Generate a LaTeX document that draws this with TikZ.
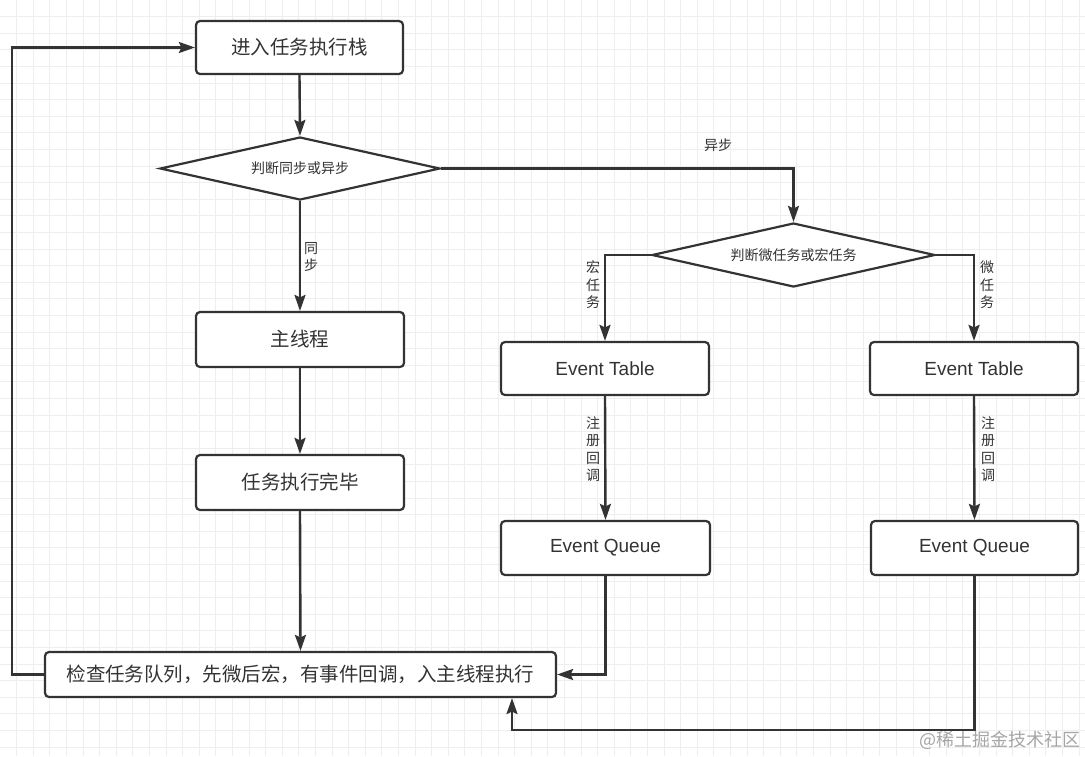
\documentclass[tikz,border=0pt]{standalone}
\usepackage{fontspec}
\setmainfont{Noto Sans CJK SC}
\newfontfamily\latinfont{Liberation Sans}
\usetikzlibrary{arrows.meta,shapes.geometric}
\definecolor{ink}{HTML}{333333}
\definecolor{gridc}{HTML}{EEEEEE}
\begin{document}
\begin{tikzpicture}[x=1pt,y=-1pt,
  gridline/.style={draw=gridc, line width=0.9pt},
  box/.style={draw=ink, line width=2.2pt, rounded corners=4pt, fill=white, inner sep=0pt, text=ink, font=\fontsize{19.5}{24}\selectfont},
  etbox/.style={box, font=\latinfont\fontsize{19}{24}\selectfont},
  decide/.style={diamond, draw=ink, line width=2.2pt, fill=white, inner sep=0pt, shape aspect=4.4, text=ink, font=\fontsize{14}{17}\selectfont},
  arr/.style={draw=ink, line width=2.4pt, -{Stealth[length=16pt,width=11pt,inset=2.5pt]}},
  lbl/.style={text=ink, inner sep=0pt, align=center, font=\fontsize{14}{17.5}\selectfont}
]
\useasboundingbox (0,0) rectangle (1085,756);
\fill[white] (0,0) rectangle (1085,756);
\foreach \i in {1,...,65} \draw[gridline] (\i*16.6,0) -- (\i*16.6,756);
\foreach \j in {1,...,45} \draw[gridline] (0,\j*16.6) -- (1085,\j*16.6);

\coordinate (loopl) at (12,674.5);
\coordinate (loopb) at (512,730);

% nodes
\node[box, minimum width=207pt, minimum height=53pt] (enter) at (299.5,47.5) {进入任务执行栈};
\node[decide, minimum width=280pt, minimum height=63pt] (sync) at (300,168.5) {判断同步或异步};
\node[box, minimum width=208pt, minimum height=55pt] (main) at (300,339.5) {主线程};
\node[box, minimum width=208pt, minimum height=55pt] (done) at (300,482.5) {任务执行完毕};
\node[box, minimum width=511pt, minimum height=45pt] (check) at (300.5,674.5) {检查任务队列，先微后宏，有事件回调，入主线程执行};
\node[decide, minimum width=283pt, minimum height=64pt] (kind) at (793.5,255) {判断微任务或宏任务};
\node[etbox, minimum width=208pt, minimum height=53pt] (etl) at (605,368.5) {Event Table};
\node[etbox, minimum width=208pt, minimum height=53pt] (etr) at (974,368.5) {Event Table};
\node[etbox, minimum width=209pt, minimum height=54pt] (eql) at (605.5,548) {Event Queue};
\node[etbox, minimum width=207pt, minimum height=54pt] (eqr) at (974.5,548) {Event Queue};

% labels
\node[lbl] (lsync) at (311,257) {同\\步};
\node[lbl] (lasync) at (718,145) {异步};
\node[lbl] (lmacro) at (593,285) {宏\\任\\务};
\node[lbl] (lmicro) at (987,285) {微\\任\\务};
\node[lbl] (lregl) at (593,449) {注\\册\\回\\调};
\node[lbl] (lregr) at (988,449) {注\\册\\回\\调};

% connectors
\draw[arr] (enter.south) -- (sync.north);
\draw[arr] (sync.south) -- (main.north);
\draw[arr] (main.south) -- (done.north);
\draw[arr] (done.south) -- (check.north);
\draw[arr] (sync.east) -| (kind.north);
\draw[arr] (kind.west) -| (etl.north);
\draw[arr] (kind.east) -| (etr.north);
\draw[arr] (etl.south) -- (eql.north);
\draw[arr] (etr.south) -- (eqr.north);
\draw[arr] (eql.south) |- (check.east);
\draw[arr] (check.west) -- (loopl) |- (enter.west);
\draw[arr] (eqr.south) |- (loopb) -- (loopb |- check.south);

% watermark
\node[text=gray!70, inner sep=0pt, anchor=east, font=\fontsize{18}{20}\selectfont] (wm) at (1081,740) {@稀土掘金技术社区};
\end{tikzpicture}
\end{document}
